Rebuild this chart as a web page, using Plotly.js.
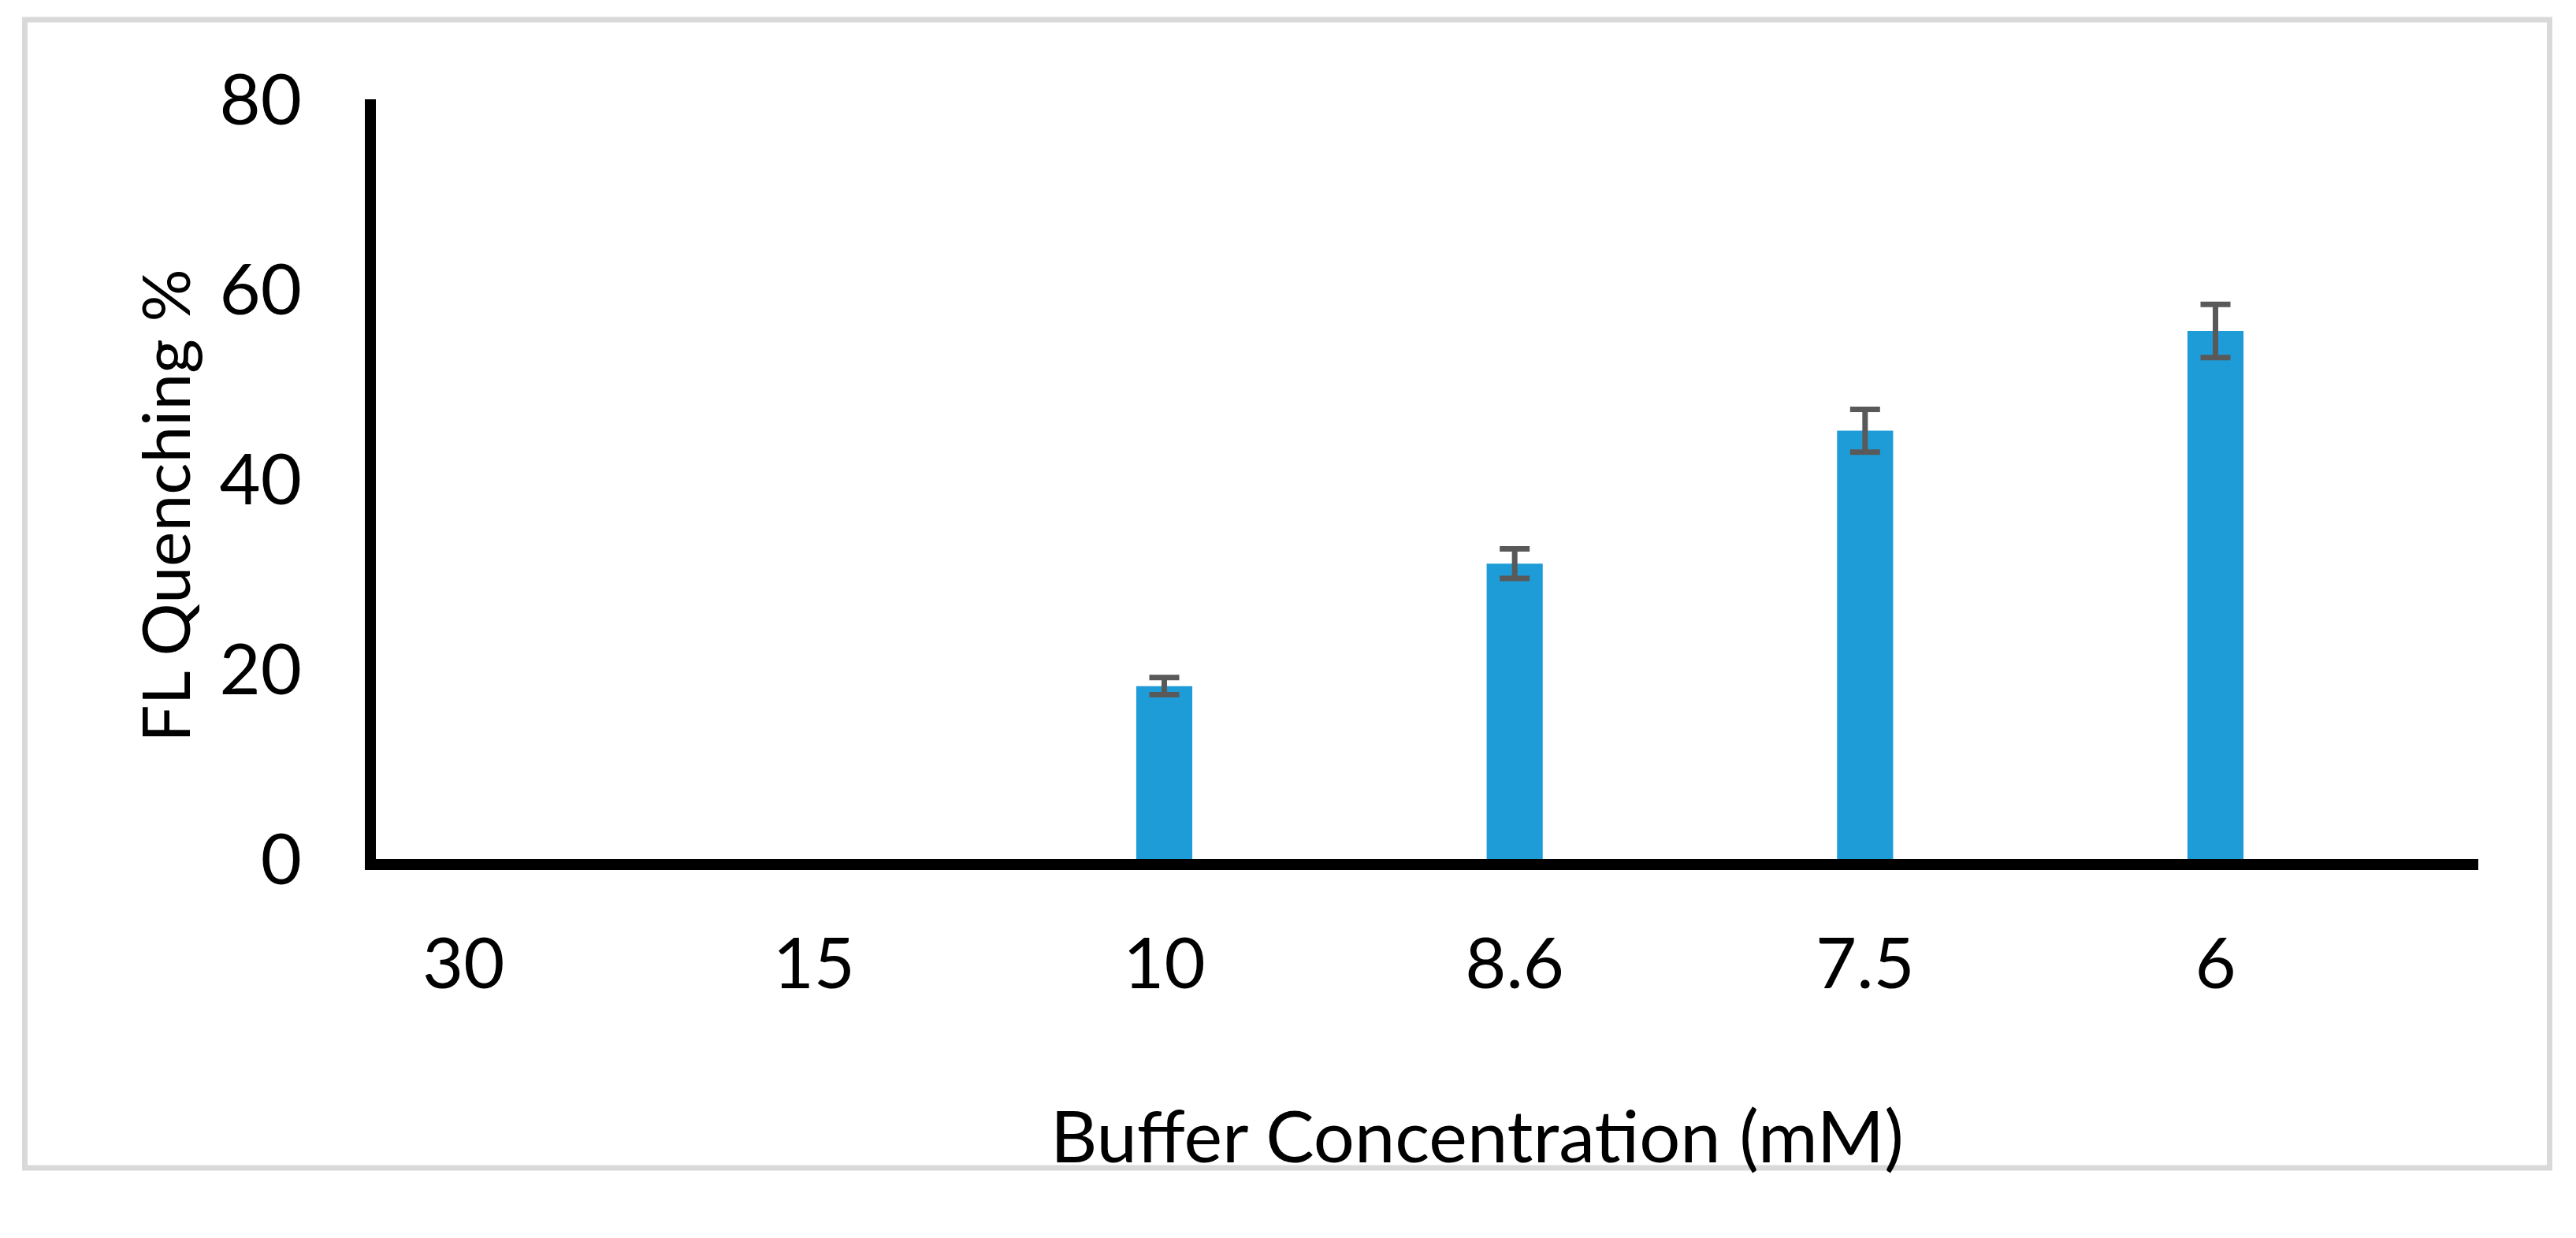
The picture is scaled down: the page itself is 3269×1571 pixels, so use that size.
<!DOCTYPE html>
<html>
<head>
<meta charset="utf-8">
<script src="https://cdn.plot.ly/plotly-3.0.1.min.js"></script>
<style>
  html, body { margin: 0; padding: 0; background: #ffffff; }
  #chart { width: 3269px; height: 1571px; }
</style>
</head>
<body>
<div id="chart"></div>
<script>
// Data
const categories = ["30", "15", "10", "8.6", "7.5", "6"];
const quenching = [null, null, 18.2, 31.1, 45.1, 55.6];
const quenchingErr = [null, null, 0.9, 1.55, 2.25, 2.8];
const yTickValues = [0, 20, 40, 60, 80];
const xTitle = "Buffer Concentration (mM)";
const yTitle = "FL Quenching %";

const W = 3269, H = 1571;
const M = { l: 477, r: 124, t: 126, b: 481 };
const plotW = W - M.l - M.r;
const plotH = H - M.t - M.b;
// pixel -> paper coordinate helpers
function px2x(px) { return (px - M.l) / plotW; }
function py2y(py) { return (H - M.b - py) / plotH; }

const FONT = "Lato, 'Open Sans', sans-serif";

const trace = {
  type: "bar",
  x: categories,
  y: quenching,
  marker: { color: "#1E9CD8", line: { width: 0 } },
  error_y: {
    type: "data",
    array: quenchingErr,
    visible: true,
    color: "#595959",
    thickness: 7,
    width: 19
  },
  hoverinfo: "x+y"
};

const layout = {
  width: W,
  height: H,
  margin: M,
  paper_bgcolor: "#ffffff",
  plot_bgcolor: "#ffffff",
  showlegend: false,
  bargap: 0.84,
  font: { family: FONT, color: "#000000" },
  xaxis: {
    type: "category",
    range: [-0.25, 5.75],
    showgrid: false,
    zeroline: false,
    showline: true,
    linecolor: "#000000",
    linewidth: 14,
    ticks: "",
    ticklabelstandoff: 42,
    tickfont: { family: FONT, size: 90, color: "#000000" },
    automargin: false,
    fixedrange: true
  },
  yaxis: {
    range: [0, 80],
    tickvals: yTickValues,
    showgrid: false,
    zeroline: false,
    showline: true,
    linecolor: "#000000",
    linewidth: 14,
    ticks: "",
    ticklabelstandoff: 62,
    tickfont: { family: FONT, size: 90, color: "#000000" },
    automargin: false,
    fixedrange: true
  },
  annotations: [
    {
      text: xTitle,
      xref: "paper", yref: "paper",
      x: px2x(1874), y: py2y(1439),
      xanchor: "center", yanchor: "middle",
      showarrow: false,
      font: { family: FONT, size: 92, color: "#000000" }
    },
    {
      text: yTitle,
      xref: "paper", yref: "paper",
      x: px2x(208), y: py2y(642),
      xanchor: "center", yanchor: "middle",
      textangle: -90,
      showarrow: false,
      font: { family: FONT, size: 84, color: "#000000" }
    }
  ],
  shapes: [{
    type: "rect",
    xref: "paper", yref: "paper",
    x0: px2x(31.5), x1: px2x(3235.5),
    y0: py2y(1482), y1: py2y(25),
    line: { color: "#D9D9D9", width: 7 },
    fillcolor: "rgba(0,0,0,0)",
    layer: "below"
  }]
};

Plotly.newPlot("chart", [trace], layout, { displayModeBar: false, staticPlot: true });
</script>
</body>
</html>
